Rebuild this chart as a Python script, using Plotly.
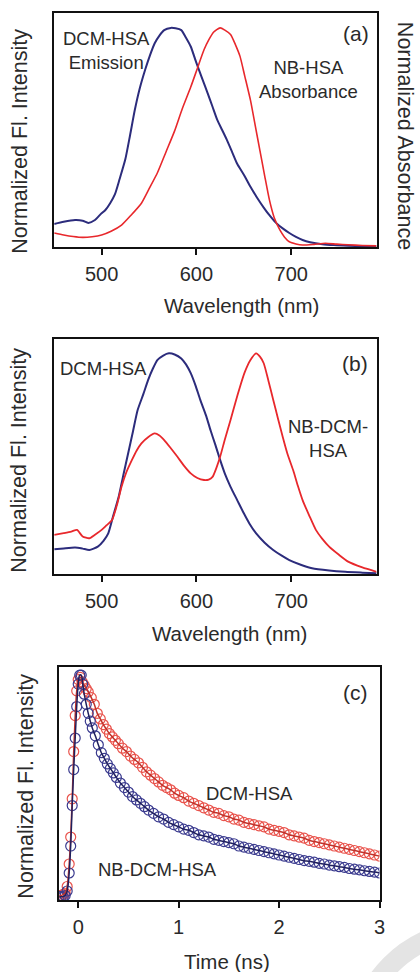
import plotly.graph_objects as go

W, H = 420, 972

# ---------------- Panel (a) data ----------------
a_em_wl = [450, 460, 472, 480, 486, 493, 499, 504, 509, 514, 519, 525, 530, 535, 540, 546, 551, 556, 561, 566,
           573, 578, 584, 589, 594, 600, 606, 612, 617, 622, 627, 632, 638, 643, 650, 657, 664, 671, 677, 684,
           691, 698, 705, 712, 720, 733, 745, 760, 775, 790]
a_em_val = [0.105, 0.115, 0.123, 0.12, 0.11, 0.123, 0.15, 0.169, 0.2, 0.24, 0.31, 0.40, 0.51, 0.625, 0.72, 0.81,
            0.875, 0.93, 0.965, 0.99, 1.0, 0.998, 0.99, 0.955, 0.915, 0.84, 0.77, 0.70, 0.64, 0.58, 0.535, 0.49,
            0.43, 0.38, 0.33, 0.275, 0.225, 0.18, 0.145, 0.11, 0.085, 0.064, 0.046, 0.032, 0.022, 0.013, 0.009,
            0.006, 0.004, 0.002]
a_abs_wl = [450, 460, 470, 480, 490, 500, 510, 521, 531, 542, 550, 559, 568, 577, 585, 594, 601, 608, 613, 618,
            625, 630, 636, 641, 646, 651, 657, 662, 667, 672, 677, 682, 688, 693, 698, 705, 712, 724, 736, 748,
            760, 775, 790]
a_abs_val = [0.064, 0.055, 0.048, 0.044, 0.047, 0.055, 0.072, 0.10, 0.145, 0.20, 0.265, 0.34, 0.435, 0.53, 0.63,
             0.73, 0.815, 0.90, 0.945, 0.98, 1.0, 0.99, 0.97, 0.925, 0.87, 0.78, 0.67, 0.555, 0.44, 0.325, 0.215,
             0.135, 0.078, 0.045, 0.024, 0.014, 0.009, 0.012, 0.017, 0.013, 0.01, 0.007, 0.005]

# ---------------- Panel (b) data ----------------
b_dcm_wl = [450, 460, 472, 480, 487, 496, 502, 507, 512, 518, 523, 528, 533, 538, 544, 549, 554, 559, 565, 571,
            577, 584, 589, 594, 599, 604, 610, 615, 620, 625, 630, 636, 643, 650, 656, 663, 672, 681, 690, 698,
            710, 722, 740, 757, 775, 790]
b_dcm_val = [0.112, 0.116, 0.12, 0.115, 0.109, 0.124, 0.15, 0.184, 0.26, 0.35, 0.45, 0.547, 0.645, 0.743, 0.815,
             0.879, 0.93, 0.97, 0.99, 1.0, 0.995, 0.977, 0.95, 0.91, 0.855, 0.79, 0.72, 0.65, 0.585, 0.517, 0.455,
             0.395, 0.335, 0.275, 0.228, 0.184, 0.142, 0.109, 0.083, 0.063, 0.042, 0.026, 0.016, 0.01, 0.006, 0.003]
b_nb_wl = [450, 460, 468, 474, 480, 487, 493, 500, 505, 511, 516, 521, 526, 532, 537, 542, 549, 556, 561, 566,
           573, 580, 587, 594, 601, 608, 613, 617, 621, 625, 630, 636, 641, 646, 651, 657, 663, 667, 671, 676,
           681, 686, 691, 696, 702, 707, 712, 719, 726, 733, 740, 750, 760, 775, 790]
b_nb_val = [0.177, 0.185, 0.192, 0.2, 0.17, 0.162, 0.178, 0.2, 0.22, 0.245, 0.31, 0.395, 0.46, 0.517, 0.56, 0.592,
            0.62, 0.637, 0.628, 0.607, 0.57, 0.531, 0.49, 0.456, 0.435, 0.426, 0.428, 0.44, 0.48, 0.531, 0.61,
            0.698, 0.775, 0.849, 0.915, 0.97, 1.0, 0.985, 0.955, 0.875, 0.79, 0.705, 0.622, 0.545, 0.471, 0.4,
            0.335, 0.265, 0.2, 0.158, 0.124, 0.088, 0.056, 0.03, 0.01]

# ---------------- Panel (c) data ----------------
c_dcm_t = [-0.19, -0.17, -0.15, -0.13, -0.11, -0.09, -0.075, -0.06, -0.045, -0.03, -0.015, 0.0, 0.02, 0.04, 0.06,
           0.08, 0.10, 0.13, 0.16, 0.19, 0.22, 0.25, 0.28, 0.31, 0.34, 0.37, 0.40, 0.44, 0.48, 0.52, 0.56, 0.60,
           0.64, 0.68, 0.72, 0.76, 0.80, 0.84, 0.88, 0.92, 0.96, 1.00, 1.05, 1.10, 1.15, 1.20, 1.25, 1.30, 1.35,
           1.40, 1.45, 1.50, 1.55, 1.60, 1.65, 1.70, 1.75, 1.80, 1.85, 1.90, 1.95, 2.00, 2.05, 2.10, 2.15, 2.20,
           2.25, 2.30, 2.35, 2.40, 2.45, 2.50, 2.55, 2.60, 2.65, 2.70, 2.75, 2.80, 2.85, 2.90, 2.95, 3.00]
c_dcm_val = [0.02, 0.02, 0.025, 0.03, 0.06, 0.16, 0.28, 0.45, 0.66, 0.82, 0.93, 0.98, 0.99, 0.97, 0.955, 0.94,
             0.925, 0.90, 0.87, 0.83, 0.805, 0.78, 0.76, 0.74, 0.725, 0.71, 0.695, 0.675, 0.66, 0.64, 0.625, 0.61,
             0.59, 0.57, 0.555, 0.54, 0.525, 0.51, 0.50, 0.49, 0.475, 0.465, 0.455, 0.44, 0.43, 0.42, 0.41, 0.40,
             0.39, 0.385, 0.375, 0.37, 0.36, 0.355, 0.345, 0.34, 0.335, 0.33, 0.325, 0.315, 0.31, 0.305, 0.30,
             0.29, 0.285, 0.28, 0.275, 0.265, 0.26, 0.255, 0.25, 0.245, 0.24, 0.235, 0.23, 0.225, 0.22, 0.215,
             0.21, 0.205, 0.20, 0.195]
c_nb_t = [-0.19, -0.17, -0.15, -0.13, -0.11, -0.09, -0.075, -0.06, -0.045, -0.03, -0.015, 0.0, 0.015, 0.03, 0.045,
          0.06, 0.08, 0.10, 0.12, 0.14, 0.17, 0.20, 0.23, 0.26, 0.29, 0.32, 0.35, 0.38, 0.42, 0.46, 0.50, 0.54,
          0.58, 0.62, 0.66, 0.70, 0.75, 0.80, 0.85, 0.90, 0.95, 1.00, 1.05, 1.10, 1.15, 1.20, 1.25, 1.30, 1.35,
          1.40, 1.45, 1.50, 1.55, 1.60, 1.65, 1.70, 1.75, 1.80, 1.85, 1.90, 1.95, 2.00, 2.05, 2.10, 2.15, 2.20,
          2.25, 2.30, 2.35, 2.40, 2.45, 2.50, 2.55, 2.60, 2.65, 2.70, 2.75, 2.80, 2.85, 2.90, 2.95, 3.00]
c_nb_val = [0.015, 0.015, 0.015, 0.02, 0.04, 0.12, 0.24, 0.42, 0.58, 0.72, 0.86, 0.96, 1.0, 1.0, 0.96, 0.915,
            0.87, 0.83, 0.795, 0.765, 0.73, 0.69, 0.655, 0.63, 0.605, 0.585, 0.565, 0.545, 0.52, 0.50, 0.48, 0.46,
            0.445, 0.43, 0.415, 0.40, 0.385, 0.37, 0.36, 0.345, 0.335, 0.325, 0.315, 0.31, 0.30, 0.29, 0.285,
            0.28, 0.27, 0.265, 0.26, 0.255, 0.25, 0.24, 0.235, 0.23, 0.225, 0.22, 0.215, 0.21, 0.205, 0.20, 0.195,
            0.19, 0.185, 0.18, 0.175, 0.172, 0.168, 0.163, 0.16, 0.155, 0.152, 0.148, 0.145, 0.14, 0.137, 0.134,
            0.13, 0.127, 0.124, 0.12]

wl_ticks = [500, 600, 700]
t_ticks = [0, 1, 2, 3]

BLUE = "#2c2c7c"
RED = "#e8282c"
TXT = "#2a2a2a"
FONT = "Liberation Sans, Arial, sans-serif"


def px(x):
    return x / W


def py(y):
    return 1 - y / H


fig = go.Figure()

# panel (a)
fig.add_trace(go.Scatter(x=a_em_wl, y=a_em_val, mode="lines", line=dict(color=BLUE, width=2, shape="spline", smoothing=0.6),
                         xaxis="x", yaxis="y"))
fig.add_trace(go.Scatter(x=a_abs_wl, y=a_abs_val, mode="lines", line=dict(color=RED, width=1.6, shape="spline", smoothing=0.6),
                         xaxis="x", yaxis="y"))
# panel (b)
fig.add_trace(go.Scatter(x=b_dcm_wl, y=b_dcm_val, mode="lines", line=dict(color=BLUE, width=2, shape="spline", smoothing=0.6),
                         xaxis="x2", yaxis="y2"))
fig.add_trace(go.Scatter(x=b_nb_wl, y=b_nb_val, mode="lines", line=dict(color=RED, width=1.8, shape="spline", smoothing=0.6),
                         xaxis="x2", yaxis="y2"))
# panel (c)
fig.add_trace(go.Scatter(x=c_dcm_t, y=c_dcm_val, mode="markers",
                         marker=dict(symbol="circle-open", size=10, color="#e9534c", line=dict(width=1.2)),
                         xaxis="x3", yaxis="y3"))
fig.add_trace(go.Scatter(x=c_nb_t, y=c_nb_val, mode="markers",
                         marker=dict(symbol="circle-open", size=10, color="#3b3b8f", line=dict(width=1.2)),
                         xaxis="x3", yaxis="y3"))
fig.add_trace(go.Scatter(x=c_dcm_t, y=c_dcm_val, mode="lines", line=dict(color="#c0322a", width=1.5, shape="spline"),
                         xaxis="x3", yaxis="y3"))
fig.add_trace(go.Scatter(x=c_nb_t, y=c_nb_val, mode="lines", line=dict(color="#20205e", width=1.5, shape="spline"),
                         xaxis="x3", yaxis="y3"))

axis_common = dict(showline=True, linecolor="#111", linewidth=1.6, mirror=True, showgrid=False, zeroline=False)
xaxis_common = dict(axis_common, ticks="outside", ticklen=6, tickwidth=1.5, tickcolor="#111",
                    tickfont=dict(family=FONT, size=20, color=TXT), ticklabelstandoff=2)
yaxis_common = dict(axis_common, showticklabels=False, ticks="")

fig.update_layout(
    width=W, height=H, margin=dict(l=0, r=0, t=0, b=0),
    paper_bgcolor="white", plot_bgcolor="white", showlegend=False,
    xaxis=dict(xaxis_common, domain=[px(55), px(382)], range=[450, 790], tickvals=wl_ticks, anchor="y"),
    yaxis=dict(yaxis_common, domain=[py(247), py(13)], range=[0, 1.068], anchor="x"),
    xaxis2=dict(xaxis_common, domain=[px(55), px(382)], range=[450, 790], tickvals=wl_ticks, anchor="y2"),
    yaxis2=dict(yaxis_common, domain=[py(574), py(339)], range=[0, 1.065], anchor="x2"),
    xaxis3=dict(xaxis_common, domain=[px(60), px(385)], range=[-0.19, 3.0], tickvals=t_ticks, anchor="y3"),
    yaxis3=dict(yaxis_common, domain=[py(900), py(667)], range=[0, 1.036], anchor="x3"),
)


def note(text, x, y, size=18, angle=0):
    fig.add_annotation(text=text, x=px(x), y=py(y), xref="paper", yref="paper", showarrow=False,
                       xanchor="center", yanchor="middle", textangle=angle,
                       font=dict(family=FONT, size=size, color=TXT), align="center")


# panel labels and series labels
note("(a)", 361, 33, 21)
note("DCM-HSA<br>Emission", 108, 50, 18.5)
note("NB-HSA<br>Absorbance", 313, 80, 18.5)
note("(b)", 360, 363, 21)
note("DCM-HSA", 105, 368, 18.5)
note("NB-DCM-<br>HSA", 333, 438, 18.5)
note("(c)", 361, 692, 21)
note("DCM-HSA", 253, 793, 18.5)
note("NB-DCM-HSA", 160, 869, 18.5)

# axis titles
note("Wavelength (nm)", 245, 305, 20.5)
note("Wavelength (nm)", 233, 633, 20.5)
note("Time (ns)", 230, 961, 20.5)
note("Normalized Fl. Intensity", 20, 141, 21.5, -90)
note("Normalized Fl. Intensity", 19, 460, 21.5, -90)
note("Normalized Fl. Intensity", 26, 786, 21.5, -90)
note("Normalized Absorbance", 411, 136, 21.5, 90)

# light grey arc in the bottom-right corner
fig.add_shape(type="circle", xref="paper", yref="paper",
              x0=px(361), x1=px(601), y0=py(1170), y1=py(930),
              line=dict(color="#e4e4e4", width=20), fillcolor="rgba(0,0,0,0)", layer="below")

fig.write_html("out.html")
